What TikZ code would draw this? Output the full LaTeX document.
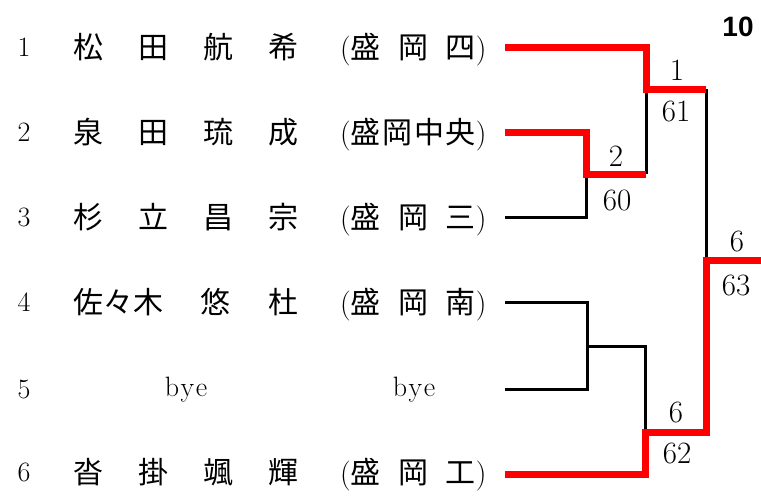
\documentclass[tikz,border=0pt]{standalone}
\usepackage{fontspec}
\newfontfamily\jpfont{Noto Sans CJK JP}
\newfontfamily\headfont{Liberation Sans}
\begin{document}
\begin{tikzpicture}[x=1pt,y=-1pt,
  every node/.style={inner sep=0pt},
  win/.style={draw=red,line width=7pt},
  lose/.style={draw=black,line width=3pt},
  num/.style={font=\fontsize{28}{30}\selectfont},
  score/.style={font=\fontsize{31}{33}\selectfont},
  nm/.style={anchor=base west,font=\jpfont\fontsize{30}{36}\selectfont},
  sc/.style={anchor=base west,font=\fontsize{30}{36}\selectfont}]
\useasboundingbox (0,0) rectangle (761,498);
% entry numbers
\node[num] (n1) at (24,47) {1};
\node[num] (n2) at (24,132) {2};
\node[num] (n3) at (24,217) {3};
\node[num] (n4) at (24,302) {4};
\node[num] (n5) at (24,389) {5};
\node[num] (n6) at (24,472) {6};
% players
\node[nm] (p1) at (73,58.4) {\makebox[225pt]{松\hfill 田\hfill 航\hfill 希}};
\node[sc] (s1) at (340,58.4) {(\makebox[125pt]{\jpfont 盛\hfill 岡\hfill 四})};
\node[nm] (p2) at (73,143.4) {\makebox[225pt]{泉\hfill 田\hfill 琉\hfill 成}};
\node[sc] (s2) at (340,143.4) {(\makebox[125pt]{\jpfont 盛\hfill 岡\hfill 中\hfill 央})};
\node[nm] (p3) at (73,228.4) {\makebox[225pt]{杉\hfill 立\hfill 昌\hfill 宗}};
\node[sc] (s3) at (340,228.4) {(\makebox[125pt]{\jpfont 盛\hfill 岡\hfill 三})};
\node[nm] (p4) at (73,313.4) {\makebox[225pt]{佐々木\hfill 悠\hfill 杜}};
\node[sc] (s4) at (340,313.4) {(\makebox[125pt]{\jpfont 盛\hfill 岡\hfill 南})};
\node[num] (p5) at (186,390) {b\kern1.5pt y\kern1.5pt e};
\node[num] (s5) at (414,390) {b\kern1.5pt y\kern1.5pt e};
\node[nm] (p6) at (73,483.4) {\makebox[225pt]{沓\hfill 掛\hfill 颯\hfill 輝}};
\node[sc] (s6) at (340,483.4) {(\makebox[125pt]{\jpfont 盛\hfill 岡\hfill 工})};
% bracket points
\coordinate (e1) at (505,47);
\coordinate (e2) at (505,132);
\coordinate (e3) at (505,217);
\coordinate (e4) at (505,302);
\coordinate (e5) at (505,389);
\coordinate (e6) at (505,474);
\coordinate (a2) at (586,132);
\coordinate (a3) at (586,217);
\coordinate (m23) at (586,174);
\coordinate (w23) at (646,174);
\coordinate (a1) at (646,47);
\coordinate (m1) at (646,89);
\coordinate (w1) at (706,89);
\coordinate (a4) at (587,302);
\coordinate (a5) at (587,389);
\coordinate (m45) at (587,346);
\coordinate (w45) at (645,346);
\coordinate (a6) at (645,474);
\coordinate (m6) at (645,432);
\coordinate (w6) at (706,432);
\coordinate (fin) at (706,260);
\coordinate (top) at (761,260);
% losing lines
\draw[lose] (e3) -- (a3) -- (m23);
\draw[lose] (m1) -- (w23);
\draw[lose] (e4) -- (a4) -- (a5) -- (e5);
\draw[lose] (m45) -- (w45) -- (m6);
\draw[lose] (w1) -- (fin);
% winning lines
\draw[win] (e2) -- (a2) -- (m23) -- (w23);
\draw[win] (e1) -- (a1) -- (m1) -- (w1);
\draw[win] (e6) -- (a6) -- (m6) -- (w6) -- (fin) -- (top);
% scores
\node[score] (r2) at (616,156) {2};
\node[score] (g2) at (617,200) {60};
\node[score] (r1) at (677,70) {1};
\node[score] (g1) at (676,112) {61};
\node[score] (r6) at (676,412) {6};
\node[score] (g6) at (677,453) {62};
\node[score] (rf) at (737,241) {6};
\node[score] (gf) at (736,285) {63};
\node[font=\headfont\bfseries\fontsize{28}{30}\selectfont] (no) at (738,27) {10};
\end{tikzpicture}
\end{document}
